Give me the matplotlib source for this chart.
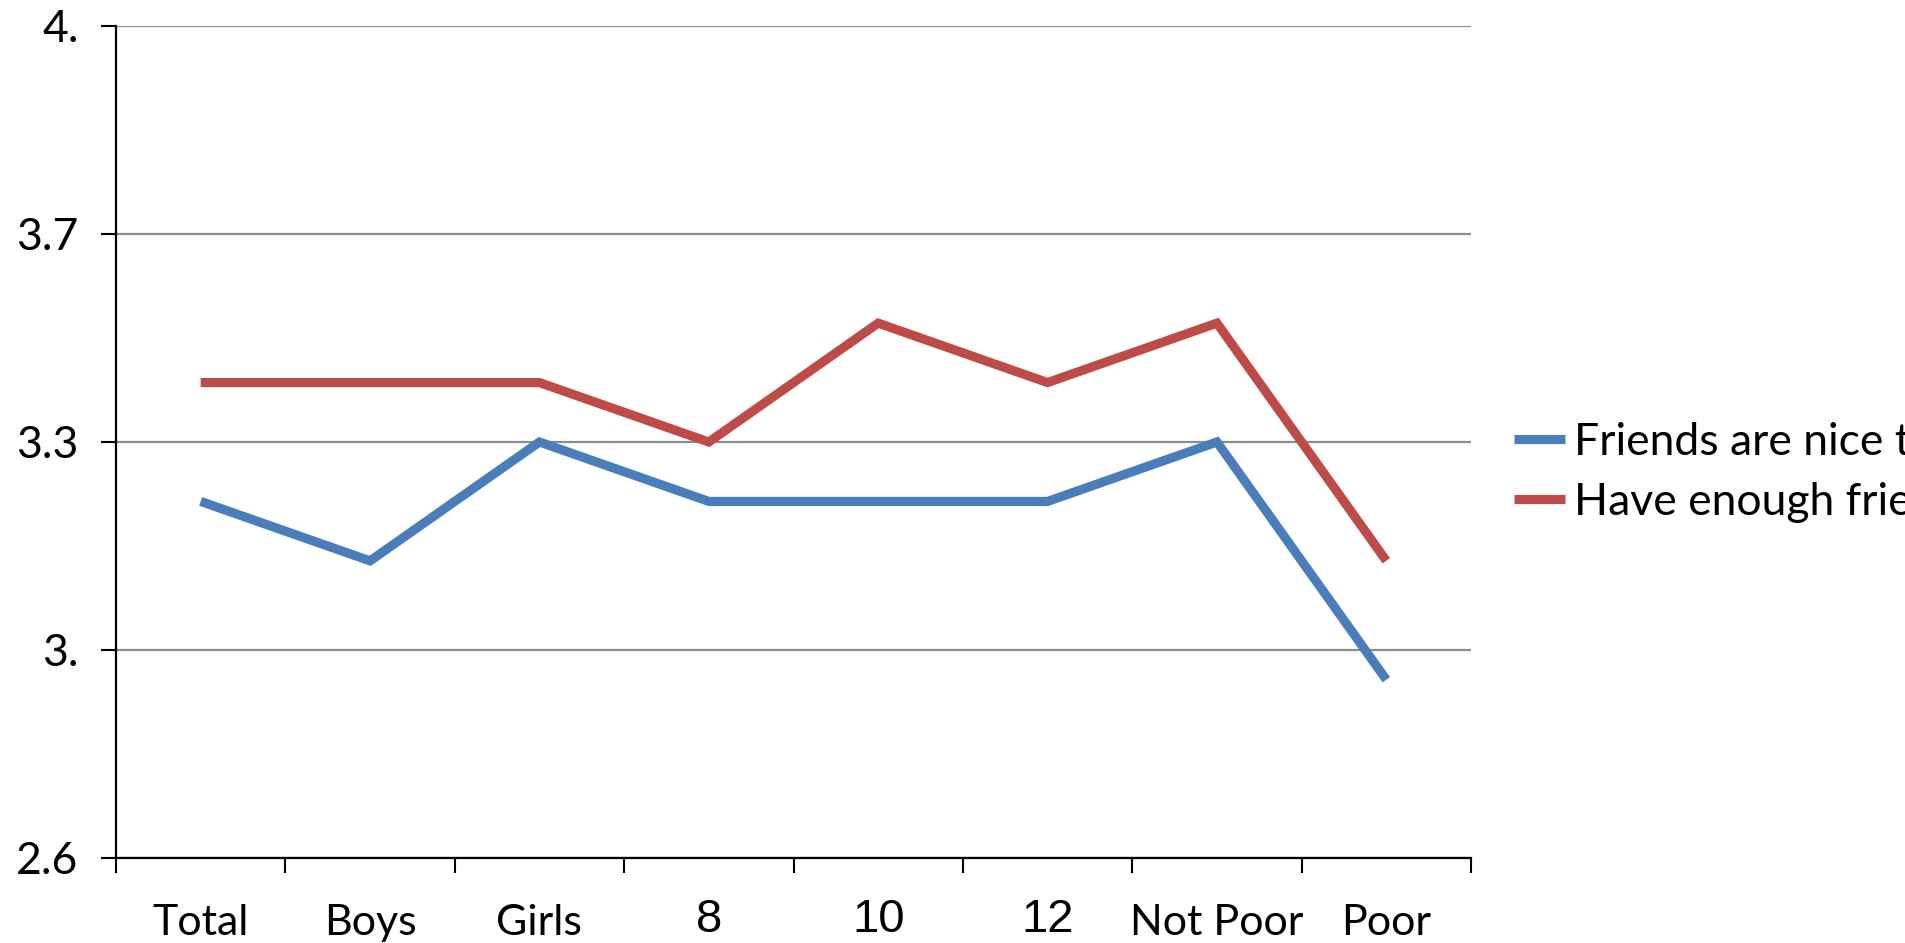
import matplotlib
matplotlib.use("Agg")
import matplotlib.pyplot as plt
from matplotlib.ticker import FixedLocator

# Chart data
categories = ["Total", "Boys", "Girls", "8", "10", "12", "Not Poor", "Poor"]
friends_nice = [3.2, 3.1, 3.3, 3.2, 3.2, 3.2, 3.3, 2.9]
enough_friends = [3.4, 3.4, 3.4, 3.3, 3.5, 3.4, 3.5, 3.1]
series_names = ["Friends are nice to me", "Have enough friends"]

y_ticks = [2.6, 2.95, 3.3, 3.65, 4.0]
y_tick_labels = ["2.6", "3.", "3.3", "3.7", "4."]

BLUE = "#4A7EBB"
RED = "#BE4B48"
GRID = "#8C8C8C"
TEXT_FONT = ["Lato", "DejaVu Sans"]
NUM_FONT = ["Liberation Sans", "DejaVu Sans"]

fig = plt.figure(figsize=(19.06, 9.43), dpi=100)
ax = fig.add_axes([116 / 1906, 1 - 858 / 943, (1471 - 116) / 1906, (858 - 26) / 943])

x = list(range(len(categories)))
ax.plot(x, friends_nice, color=BLUE, lw=6.6, solid_joinstyle="miter",
        solid_capstyle="butt", label=series_names[0], zorder=3)
ax.plot(x, enough_friends, color=RED, lw=6.6, solid_joinstyle="miter",
        solid_capstyle="butt", label=series_names[1], zorder=3)

ax.set_xlim(-0.5, len(categories) - 0.5)
ax.set_ylim(y_ticks[0], y_ticks[-1])

# y axis
ax.set_yticks(y_ticks)
ax.set_yticklabels(y_tick_labels)
ax.yaxis.grid(True, color=GRID, lw=1.6)
ax.set_axisbelow(True)
ax.tick_params(axis="y", direction="out", length=11, width=1.5, pad=16,
               labelsize=32)
for lab in ax.get_yticklabels():
    lab.set_family(TEXT_FONT)

# x axis: labels centred on categories, ticks on category boundaries
ax.set_xticks(x)
ax.set_xticklabels(categories)
ax.xaxis.set_minor_locator(FixedLocator([i - 0.5 for i in range(len(categories) + 1)]))
ax.tick_params(axis="x", which="major", length=0, pad=33, labelsize=31)
ax.tick_params(axis="x", which="minor", direction="out", length=11, width=1.5)
for tick in ax.xaxis.get_major_ticks():
    lab = tick.label1
    if lab.get_text().isdigit():
        lab.set_family(NUM_FONT)
        lab.set_fontsize(34)
        tick.set_pad(29)
    else:
        lab.set_family(TEXT_FONT)

for side in ("top", "right"):
    ax.spines[side].set_visible(False)
for side in ("left", "bottom"):
    ax.spines[side].set_linewidth(1.6)
    ax.spines[side].set_color("black")

leg = ax.legend(loc="upper left", bbox_to_anchor=(1514 / 1906, 1 - 422 / 943),
                bbox_transform=fig.transFigure, frameon=False,
                prop={"family": TEXT_FONT, "size": 32},
                handlelength=1.15, handletextpad=0.2, labelspacing=0.42,
                borderpad=0, borderaxespad=0)
for h in leg.get_lines():
    h.set_linewidth(6.6)

fig.savefig("out.png", dpi=100)
